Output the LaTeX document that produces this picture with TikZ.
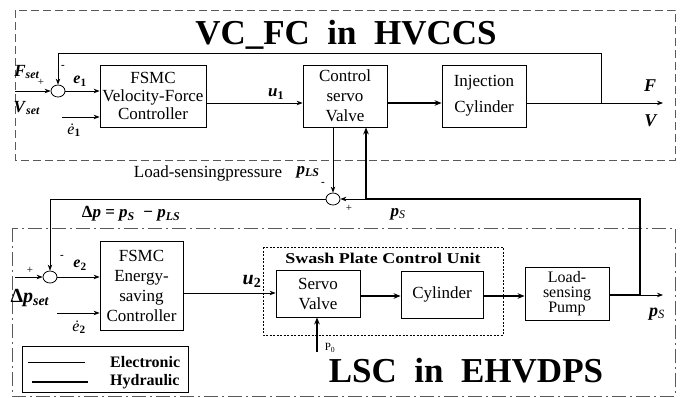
\documentclass[tikz,border=0pt]{standalone}
\usepackage{fontspec}
\usepackage{graphicx}
\setmainfont{Liberation Serif}
\usetikzlibrary{arrows.meta,shapes.geometric,calc}
\newcommand{\bi}[1]{\textbf{\textit{#1}}}
\newcommand{\fs}[1]{\fontsize{#1}{#1}\selectfont}
\newcommand{\fsb}[2]{\fontsize{#1}{#2}\selectfont}
\begin{document}
\begin{tikzpicture}[x=1pt,y=-1pt,
  blk/.style={draw,line width=0.8pt,inner sep=0pt,align=center},
  sumj/.style={draw,ellipse,line width=0.8pt,minimum width=14pt,minimum height=12pt,inner sep=0pt},
  arr/.style={line width=0.8pt,-{Stealth[length=6pt,width=4.5pt]}},
  harr/.style={line width=2pt,-{Stealth[length=7pt,width=5.5pt]}},
  thin/.style={line width=0.8pt},
  hyd/.style={line width=2pt},
  lbl/.style={inner sep=0pt,font=\fs{16}},
  sgn/.style={inner sep=0pt,font=\fs{11}},
  title/.style={inner sep=0pt,font=\fs{35}\bfseries},
]
\useasboundingbox (0,0) rectangle (688,397);
% frames
\draw[gray!70!black,line width=0.8pt,dash pattern=on 8pt off 4pt] (15,10) rectangle (675,160);
\draw[gray!70!black,line width=0.8pt,dash pattern=on 14pt off 4pt on 2pt off 4pt] (12,228) rectangle (675,396);
\draw[line width=0.7pt,dash pattern=on 2pt off 1.5pt] (263,247) rectangle (503,335);
% titles
\node[title] (t1) at (346,35) {VC\_FC\ \ in\ \ HVCCS};
\node[title] (t2) at (466,371) {LSC\ \ in\ \ EHVDPS};
\node[inner sep=0pt,font=\fs{15}\bfseries] (swl) at (383,258) {\scalebox{1.2}[1]{Swash Plate Control Unit}};

% ---- top loop
\node[sumj] (s1) at (58,91) {};
\node[blk,minimum width=106pt,minimum height=62pt,font=\fsb{17}{18}] (fsmc1) at (153,96) {FSMC\\Velocity-Force\\Controller};
\node[blk,minimum width=84pt,minimum height=62pt,font=\fsb{17}{20}] (csv) at (345,96) {Control\\servo\\Valve};
\node[blk,minimum width=84pt,minimum height=62pt,font=\fsb{17}{26}] (inj) at (484,96) {Injection\\Cylinder};
\coordinate (y103) at (0,103);
\coordinate (in1) at (15,91);
\coordinate (ed1) at (62,117);
\coordinate (fb) at (601,103);
\coordinate (out1) at (663,103);
\draw[arr] (in1) -- (s1.west);
\draw[arr] (s1.east) -- (fsmc1.west |- s1);
\draw[arr] (ed1) -- (fsmc1.west |- ed1);
\draw[arr] (fsmc1.east |- y103) -- (csv.west |- y103);
\draw[harr] (csv.east |- y103) -- (inj.west |- y103);
\draw[arr] (inj.east |- y103) -- (out1);
\draw[thin,-{Stealth[length=6pt,width=4.5pt]}] (fb) -- (601,53) -- (58,53) -- (s1.north);
\node[lbl,font=\fs{17}] (fset) at (27,72) {\bi{F}\textsubscript{\bi{set}}};
\node[sgn] (p1) at (41,82) {+};
\node[lbl,font=\fs{17}] (vset) at (27,108) {\bi{V}\textsubscript{\bi{set}}};
\node[sgn] (m1) at (63,67) {\bfseries -};
\node[lbl] (e1) at (80,81) {\bi{e}\textsubscript{\textbf{1}}};
\node[lbl] (ed1l) at (74,130) {\textit{\.e}\textsubscript{\textbf{1}}};
\node[lbl,font=\fs{17}] (u1) at (276,94) {\bi{u}\textsubscript{\textbf{1}}};
\node[lbl,font=\fs{18}] (fl) at (650,86) {\bi{F}};
\node[lbl,font=\fs{18}] (vl) at (651,121) {\bi{V}};

% ---- load sensing
\node[sumj] (s2) at (333,199) {};
\draw[arr] (csv.south -| s2) -- (s2.north);
\coordinate (j1) at (366,199);
\coordinate (j2) at (640,295);
\draw[harr] (j1) -- (csv.south -| j1);
\draw[hyd] (j1) -- (640,199) -- (j2);
\draw[arr] (j1) -- (s2.east);
\coordinate (c3) at (50,199);
\node[sumj] (s3) at (50,277) {};
\draw[arr] (s2.west) -- (c3) -- (s3.north);
\node[lbl,font=\fs{17}] (lsp) at (208,173) {Load-sensingpressure};
\node[lbl,font=\fs{17}] (pls) at (308,172) {\bi{p}\textsubscript{\bi{LS}}};
\node[sgn] (m2) at (323,184) {\bfseries -};
\node[sgn] (p2) at (349,208) {+};
\node[lbl,font=\fs{17}] (dpl) at (131,214) {\textbf{Δ\textit{p} = \textit{p}\textsubscript{\textit{S}}\ \ − \textit{p}\textsubscript{\textit{LS}}}};
\node[lbl,font=\fs{17}] (psl) at (398,214) {\bi{p}\textsubscript{\textit{S}}};

% ---- lower loop
\node[blk,minimum width=83pt,minimum height=89pt,font=\fsb{17}{20}] (fsmc2) at (141.5,285.5) {FSMC\\Energy-\\saving\\Controller};
\node[blk,minimum width=84pt,minimum height=47pt,font=\fsb{17}{20}] (sv) at (318,293.5) {Servo\\Valve};
\node[blk,minimum width=82pt,minimum height=47pt,font=\fs{17}] (cyl) at (442,294.5) {Cylinder};
\node[blk,minimum width=84pt,minimum height=53pt,font=\fsb{16}{15}] (pump) at (567,293.5) {Load-\\sensing\\Pump};
\coordinate (in3) at (15,277);
\coordinate (ed2) at (57,313);
\coordinate (y293) at (0,293);
\coordinate (y296) at (0,296);
\coordinate (out2) at (663,295);
\coordinate (p0) at (317,352);
\draw[arr] (in3) -- (s3.west);
\draw[arr] (s3.east) -- (fsmc2.west |- s3);
\draw[arr] (ed2) -- (fsmc2.west |- ed2);
\draw[arr] (fsmc2.east |- y293) -- (sv.west |- y293);
\draw[harr] (sv.east |- y296) -- (cyl.west |- y296);
\draw[harr] (cyl.east |- y296) -- (pump.west |- y296);
\draw[hyd] (pump.east |- j2) -- (j2);
\draw[arr] (j2) -- (out2);
\draw[harr] (p0) -- (sv.south -| p0);
\node[sgn] (p0l) at (330,348) {P\textsubscript{0}};
\node[sgn] (p3) at (30,270) {+};
\node[sgn] (m3) at (62,257) {\bfseries -};
\node[lbl,font=\fs{20}] (dps) at (30,298) {\textbf{Δ\textit{p}}\textsubscript{\bi{set}}};
\node[lbl] (e2) at (80,265) {\bi{e}\textsubscript{\textbf{2}}};
\node[lbl] (ed2l) at (79,327) {\textit{\.e}\textsubscript{\textbf{2}}};
\node[lbl,font=\fs{20}] (u2) at (252,281) {\bi{u}\textsubscript{\textbf{2}}};
\node[lbl,font=\fs{18}] (psl2) at (657,314) {\bi{p}\textsubscript{\textit{S}}};

% ---- legend
\node[draw,line width=0.8pt,minimum width=166pt,minimum height=46pt,inner sep=0pt] (leg) at (105,369) {};
\coordinate (la) at (28,362);
\coordinate (lb) at (85,362);
\coordinate (lc) at (32,382);
\coordinate (ld) at (88,382);
\draw[thin] (la) -- (lb);
\draw[hyd] (lc) -- (ld);
\node[lbl,font=\fs{16}\bfseries,anchor=west] (le) at (110,362) {Electronic};
\node[lbl,font=\fs{16}\bfseries,anchor=west] (lh) at (110,382) {Hydraulic};
\end{tikzpicture}
\end{document}
